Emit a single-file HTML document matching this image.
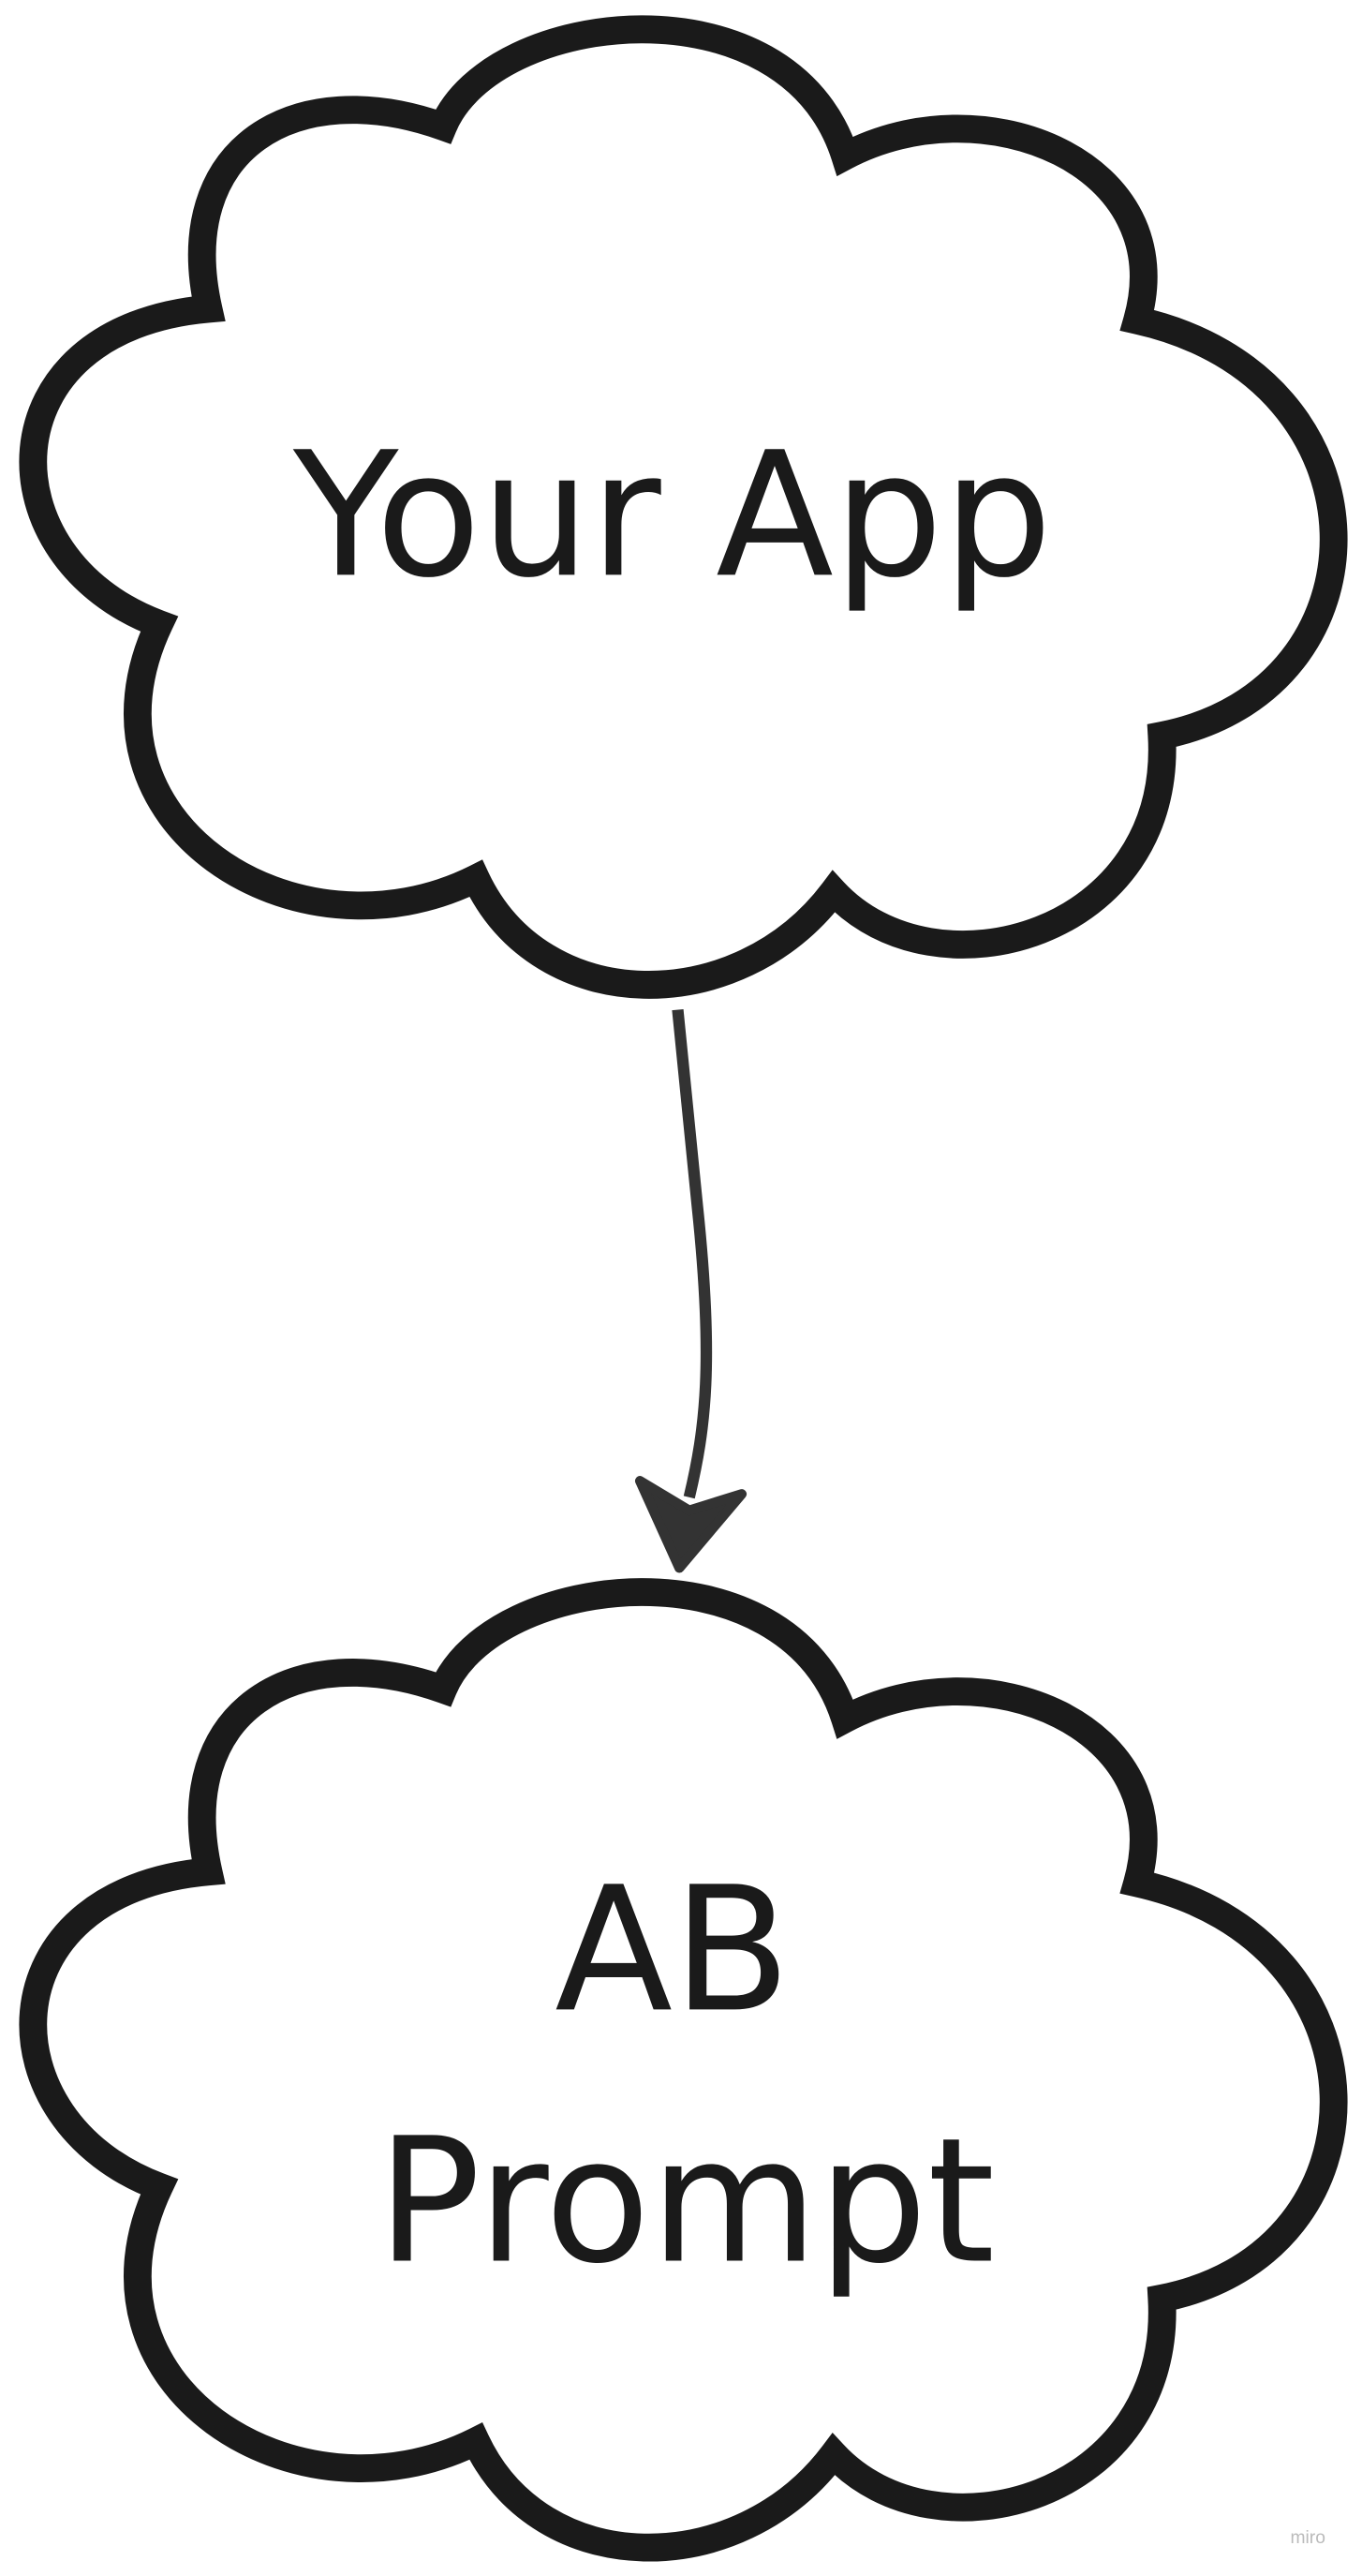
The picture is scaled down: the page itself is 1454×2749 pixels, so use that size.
<!DOCTYPE html>
<html><head><meta charset="utf-8"><style>
html,body{margin:0;padding:0;background:#fff}
svg{display:block}
</style></head><body>
<svg width="1454" height="2749" viewBox="0 0 830 1569" xmlns="http://www.w3.org/2000/svg">
<defs>
<path id="cloud" d="M270,77 C300,5 480,-15 515,95 C600,50 720,100 693,195 C850,230 850,420 708,448 C715,570 570,610 508,543 C450,620 330,620 290,535 C180,590 40,500 97,380 C-10,340 -10,200 127,188 C105,90 180,45 270,77 Z"/>
</defs>
<use href="#cloud" fill="#fff" stroke="#1a1a1a" stroke-width="17"/>
<use href="#cloud" transform="translate(0,952)" fill="#fff" stroke="#1a1a1a" stroke-width="17"/>
<g font-family="'DejaVu Sans', 'Liberation Sans', sans-serif" fill="#1a1a1a" font-size="105" text-anchor="middle">
<text x="410" y="350">Your App</text>
<text x="410" y="1224">AB</text>
<text x="418" y="1377">Prompt</text>
</g>
<path d="M413,615 L425,735 C435,830 430,870 420,912" fill="none" stroke="#333" stroke-width="7"/>
<path d="M390,902 L420,920 L452,910 L414,955 Z" fill="#333" stroke="#333" stroke-width="6" stroke-linejoin="round"/>
<text x="797" y="1549" font-family="'Liberation Sans', sans-serif" font-size="11" fill="#bbb" text-anchor="middle">miro</text>
</svg>
</body></html>
